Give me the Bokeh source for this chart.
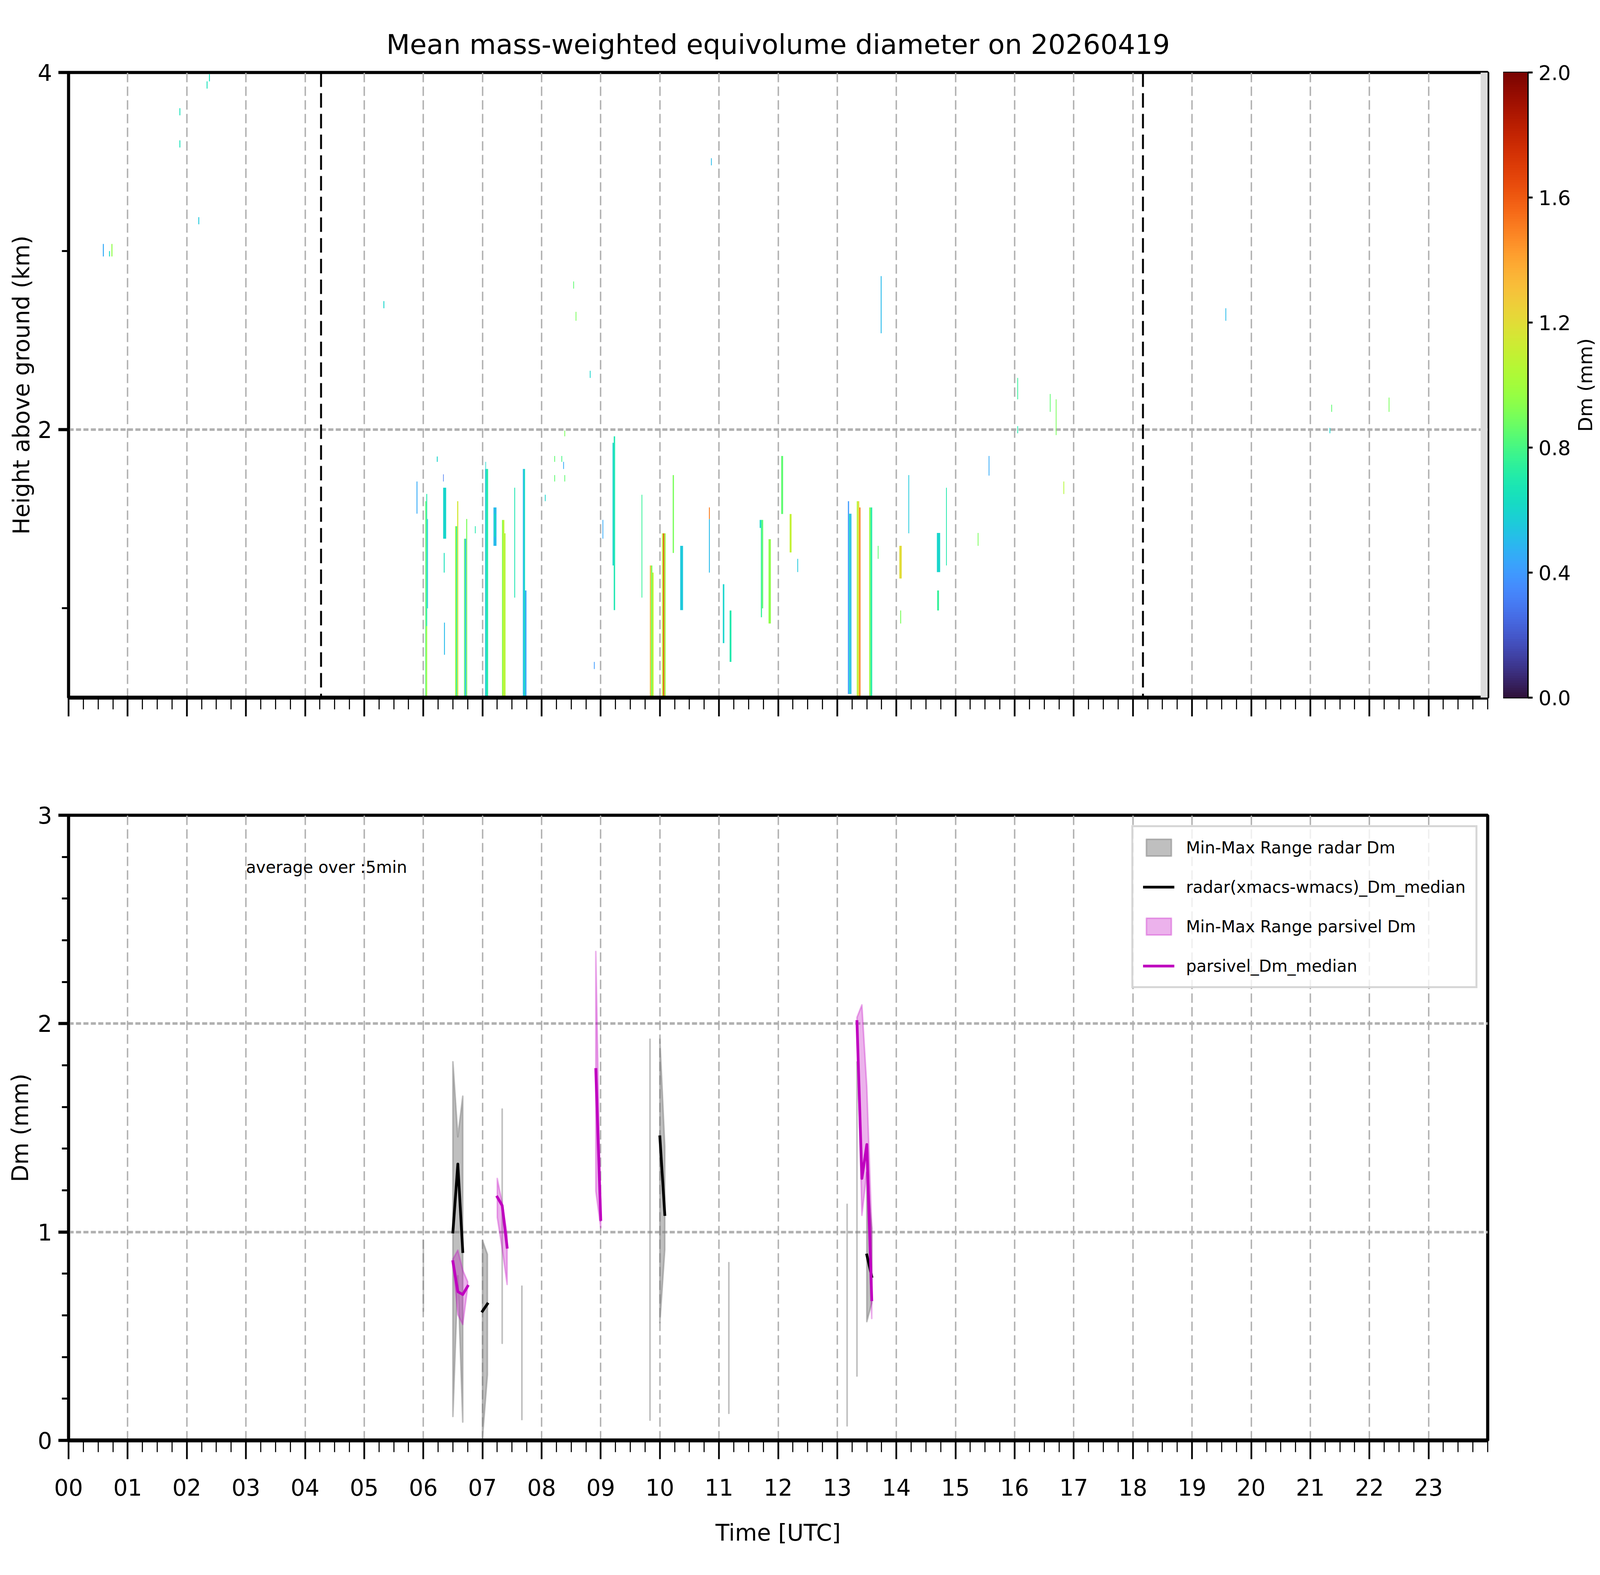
import math
import numpy as np
from bokeh.plotting import figure
from bokeh.layouts import row, column
from bokeh.models import (Range1d, FixedTicker, Span, Label, Legend, LegendItem,
                          LinearColorMapper, PrintfTickFormatter, ColumnDataSource,
                          BoxAnnotation)
from bokeh.transform import linear_cmap
from bokeh.palettes import Turbo256
from bokeh.embed import file_html
from bokeh.resources import INLINE

nan = float("nan")
FONT = "DejaVu Sans"

TITLE = "Mean mass-weighted equivolume diameter on 20260419"

# ---------------- axis ticks / labels ----------------
hour_ticks = list(range(24))
hour_labels = ["00", "01", "02", "03", "04", "05", "06", "07", "08", "09", "10", "11",
               "12", "13", "14", "15", "16", "17", "18", "19", "20", "21", "22", "23"]
hour_minor = [h + q / 4 for h in range(24) for q in range(1, 4)] + [24]
height_ticks = [2, 4]
height_minor = [1, 3]
dm_ticks = [0, 1, 2, 3]
dm_minor = [0.2, 0.4, 0.6, 0.8, 1.2, 1.4, 1.6, 1.8, 2.2, 2.4, 2.6, 2.8]
cb_ticks = [0.0, 0.4, 0.8, 1.2, 1.6, 2.0]

DM_LOW, DM_HIGH = 0.0, 2.0
HEIGHT_LO, HEIGHT_HI = 0.5, 4.0

# ---------------- top panel: radar Dm time-height streaks ----------------
streak_t0 = [
    0.58, 0.685, 0.725, 1.875, 1.875, 2.195, 2.335, 2.375, 5.325, 5.885,
    6.033, 6.05, 6.065, 6.05, 6.228, 6.335, 6.335, 6.345, 6.35, 6.537,
    6.555, 6.572, 6.688, 6.705, 6.725, 6.872, 7.044, 7.06, 7.078, 7.05,
    7.186, 7.20, 7.33, 7.35, 7.37, 7.538, 7.683, 7.70, 7.72, 8.055,
    8.215, 8.215, 8.335, 8.365, 8.385, 8.385, 8.535, 8.575, 8.815, 8.885,
    9.03, 9.20, 9.22, 9.69, 9.831, 9.85, 9.873, 10.036, 10.055, 10.075,
    10.217, 10.344, 10.83, 10.83, 10.865, 11.065, 11.18, 11.688, 11.708, 11.727,
    11.838, 12.052, 12.195, 12.325, 13.18, 13.20, 13.22, 13.33, 13.35, 13.372,
    13.539, 13.556, 13.573, 13.685, 13.735, 14.05, 14.065, 14.203, 14.685, 14.69,
    14.84, 15.375, 15.56, 16.045, 16.045, 16.595, 16.695, 16.825, 19.565, 21.325,
    21.355, 22.325,
]
streak_t1 = [
    0.597, 0.70, 0.742, 1.89, 1.89, 2.21, 2.35, 2.39, 5.34, 5.90,
    6.05, 6.065, 6.078, 6.065, 6.243, 6.386, 6.345, 6.36, 6.365, 6.555,
    6.572, 6.591, 6.705, 6.725, 6.742, 6.885, 7.06, 7.078, 7.095, 7.06,
    7.237, 7.22, 7.35, 7.37, 7.39, 7.552, 7.70, 7.72, 7.744, 8.068,
    8.228, 8.228, 8.348, 8.378, 8.398, 8.398, 8.548, 8.588, 8.828, 8.898,
    9.043, 9.22, 9.243, 9.703, 9.85, 9.873, 9.894, 10.055, 10.075, 10.097,
    10.238, 10.392, 10.845, 10.845, 10.878, 11.09, 11.21, 11.708, 11.727, 11.747,
    11.877, 12.084, 12.227, 12.338, 13.20, 13.22, 13.24, 13.35, 13.372, 13.393,
    13.556, 13.573, 13.591, 13.698, 13.75, 14.09, 14.08, 14.216, 14.74, 14.72,
    14.853, 15.388, 15.573, 16.058, 16.058, 16.608, 16.708, 16.838, 19.578, 21.338,
    21.368, 22.338,
]
streak_h0 = [
    2.97, 2.97, 2.97, 3.76, 3.58, 3.15, 3.91, 3.95, 2.68, 1.53,
    0.50, 0.90, 1.00, 0.50, 1.82, 1.39, 1.71, 1.20, 0.74, 0.50,
    0.50, 0.50, 0.50, 0.50, 0.50, 1.42, 0.50, 0.50, 0.50, 1.78,
    1.35, 1.40, 0.50, 0.50, 0.50, 1.06, 0.50, 0.50, 0.50, 1.60,
    1.82, 1.71, 1.82, 1.78, 1.963, 1.71, 2.79, 2.61, 2.29, 0.66,
    1.39, 1.24, 0.99, 1.06, 0.50, 0.50, 0.50, 0.50, 0.50, 0.50,
    1.31, 0.99, 1.20, 1.50, 3.48, 0.805, 0.70, 1.45, 0.95, 1.00,
    0.915, 1.528, 1.313, 1.203, 0.52, 0.52, 0.52, 0.50, 0.50, 0.50,
    0.50, 0.50, 0.50, 1.277, 2.54, 1.167, 0.915, 1.42, 1.203, 0.988,
    1.24, 1.35, 1.743, 2.17, 1.98, 2.10, 1.97, 1.64, 2.61, 1.98,
    2.10, 2.10,
]
streak_h1 = [
    3.04, 3.00, 3.04, 3.80, 3.62, 3.19, 3.95, 3.99, 2.72, 1.71,
    1.60, 1.64, 1.50, 0.90, 1.85, 1.675, 1.75, 1.31, 0.92, 1.46,
    1.46, 1.60, 1.39, 1.39, 1.50, 1.46, 1.78, 1.78, 1.78, 1.82,
    1.565, 1.53, 1.495, 1.495, 1.42, 1.675, 1.78, 1.78, 1.10, 1.636,
    1.853, 1.746, 1.853, 1.82, 1.995, 1.746, 2.83, 2.66, 2.33, 0.70,
    1.495, 1.927, 1.963, 1.636, 1.24, 1.24, 1.20, 1.42, 1.42, 1.42,
    1.746, 1.35, 1.50, 1.565, 3.52, 1.135, 0.988, 1.495, 1.495, 1.495,
    1.387, 1.853, 1.528, 1.277, 1.60, 1.53, 1.53, 1.60, 1.60, 1.565,
    1.565, 1.565, 1.565, 1.35, 2.86, 1.35, 0.988, 1.746, 1.422, 1.10,
    1.675, 1.422, 1.853, 2.29, 2.02, 2.20, 2.17, 1.71, 2.68, 2.01,
    2.14, 2.18,
]
streak_dm = [
    0.45, 0.6, 0.95, 0.65, 0.65, 0.55, 0.65, 0.65, 0.6, 0.45,
    0.85, 0.7, 0.55, 1.0, 0.6, 0.6, 0.3, 0.65, 0.5, 1.0,
    0.7, 1.15, 0.85, 0.5, 0.9, 0.7, 0.55, 0.65, 0.72, 0.6,
    0.5, 0.65, 0.95, 1.1, 1.05, 0.68, 0.5, 0.62, 0.45, 0.6,
    0.85, 0.85, 0.8, 0.45, 0.9, 0.85, 0.85, 0.9, 0.6, 0.4,
    0.45, 0.6, 0.68, 0.75, 1.35, 0.9, 1.1, 1.1, 1.65, 1.0,
    0.9, 0.55, 0.5, 1.5, 0.5, 0.6, 0.7, 0.6, 0.75, 0.85,
    0.95, 0.85, 1.1, 0.55, 0.4, 0.6, 0.5, 1.05, 1.2, 1.5,
    1.0, 0.8, 0.7, 0.85, 0.5, 1.2, 0.9, 0.55, 0.6, 0.75,
    0.7, 0.9, 0.45, 0.75, 0.7, 0.85, 0.9, 1.05, 0.5, 0.6,
    0.85, 0.9,
]
sun_times = [4.27, 18.17]          # black dashed markers (UTC hours)
nodata_start, nodata_end = 23.88, 24.0

# ---------------- bottom panel: 5-min statistics ----------------
radar_time = [6.0, nan, 6.5, 6.5833, 6.6667, nan, 7.0, 7.0833, nan, 7.3333, nan, 7.6667,
              nan, 9.8333, nan, 10.0, 10.0833, nan, 11.1667, nan, 13.1667, nan, 13.3333,
              nan, 13.5, 13.5833]
radar_min = [0.62, nan, 0.115, 0.79, 0.088, nan, 0.012, 0.315, nan, 0.466, nan, 0.10,
             nan, 0.097, nan, 0.565, 0.916, nan, 0.13, nan, 0.07, nan, 0.309,
             nan, 0.57, 0.66]
radar_max = [0.96, nan, 1.817, 1.457, 1.652, nan, 0.96, 0.893, nan, 1.59, nan, 0.74,
             nan, 1.925, nan, 1.925, 1.41, nan, 0.853, nan, 1.133, nan, 1.816,
             nan, 1.287, 1.018]
radar_median = [0.80, nan, 1.0, 1.326, 0.906, nan, 0.62, 0.655, nan, 1.0, nan, 0.40,
                nan, 1.0, nan, 1.457, 1.084, nan, 0.50, nan, 0.60, nan, 1.0,
                nan, 0.89, 0.787]

parsivel_time = [6.5, 6.5833, 6.6667, 6.75, nan, 7.25, 7.3333, 7.4167, nan, 8.9167, 9.0,
                 nan, 13.3333, 13.4167, 13.5, 13.5833]
parsivel_min = [0.85, 0.604, 0.556, 0.735, nan, 1.07, 0.92, 0.748, nan, 1.196, 1.02,
                nan, 1.99, 1.08, 1.287, 0.585]
parsivel_max = [0.87, 0.913, 0.817, 0.762, nan, 1.257, 1.14, 0.989, nan, 2.346, 1.08,
                nan, 2.03, 2.09, 1.697, 1.018]
parsivel_median = [0.858, 0.714, 0.70, 0.74, nan, 1.168, 1.127, 0.927, nan, 1.78, 1.06,
                   nan, 2.01, 1.257, 1.42, 0.675]

AVG_NOTE = "average over :5min"
note_x, note_y = 3.0, 2.75

# ---------------- page geometry (real viewport is 4096 x 4031 CSS px) ----------------
SX = 4096 / 7442     # horizontal scale from reference pixels
F = 0.62             # font scale


def fx(v):
    return int(round(v * SX))


def fs(v):
    return f"{v * F:.0f}px"


# ---------------- helpers ----------------
def segments(t):
    segs, cur = [], []
    for i, x in enumerate(t):
        if math.isnan(x):
            if cur:
                segs.append(cur)
            cur = []
        else:
            cur.append(i)
    if cur:
        segs.append(cur)
    return segs


def band_polys(t, lo, hi):
    xs, ys = [], []
    for idx in segments(t):
        xs.append([t[i] for i in idx] + [t[i] for i in reversed(idx)])
        ys.append([hi[i] for i in idx] + [lo[i] for i in reversed(idx)])
    return xs, ys


def text_common(ax, size=93):
    ax.major_label_text_font = FONT
    ax.major_label_text_font_size = fs(size)
    ax.major_label_text_color = "black"
    ax.axis_label_text_font = FONT
    ax.axis_label_text_font_size = fs(93)
    ax.axis_label_text_font_style = "normal"
    ax.axis_label_text_color = "black"


def style_xaxis(ax):
    # horizontal axis: ticks are vertical strokes
    ax.axis_line_color = "black"
    ax.axis_line_width = 10
    ax.major_tick_line_color = "black"
    ax.major_tick_line_width = 8 * SX
    ax.major_tick_out = 48
    ax.major_tick_in = 0
    ax.minor_tick_line_color = "black"
    ax.minor_tick_line_width = 5 * SX
    ax.minor_tick_out = 30
    ax.minor_tick_in = 0
    text_common(ax)


def style_yaxis(ax, size=93):
    # vertical axis: ticks are horizontal strokes
    ax.axis_line_color = "black"
    ax.axis_line_width = 7
    ax.major_tick_line_color = "black"
    ax.major_tick_line_width = 8
    ax.major_tick_out = fx(48)
    ax.major_tick_in = 0
    ax.minor_tick_line_color = "black"
    ax.minor_tick_line_width = 5
    ax.minor_tick_out = fx(30)
    ax.minor_tick_in = 0
    text_common(ax, size)


def style_grid(p, xticker, yticker):
    p.xgrid.ticker = xticker
    p.ygrid.ticker = yticker
    p.xgrid.grid_line_width = 6.6 * SX
    p.xgrid.grid_line_dash = "24 11"
    p.ygrid.grid_line_width = 6.6
    p.ygrid.grid_line_dash = f"{fx(24)} {fx(11)}"
    for g in (p.xgrid, p.ygrid):
        g.grid_line_color = "#b0b0b0"
    p.outline_line_color = "black"
    p.outline_line_width = 8
    p.outline_line_alpha = 1.0


FRAME_W = fx(6600)
FRAME_H = 1600
LEFT = fx(318)
TOP_ROW_H = 1936

# ---------------- top figure ----------------
p_top = figure(frame_width=FRAME_W, frame_height=FRAME_H,
               x_range=Range1d(0, 24), y_range=Range1d(HEIGHT_LO, HEIGHT_HI),
               output_backend="svg", toolbar_location=None,
               min_border_left=LEFT, min_border_right=fx(6992) - LEFT - FRAME_W,
               min_border_top=185, min_border_bottom=TOP_ROW_H - 185 - FRAME_H,
               background_fill_color="white", border_fill_color="white")
p_top.title.text = TITLE
p_top.title.align = "center"
p_top.title.text_font = FONT
p_top.title.text_font_size = fs(113)
p_top.title.text_font_style = "normal"
p_top.title.text_color = "black"
p_top.title.standoff = 61

xt_top = FixedTicker(ticks=hour_ticks, minor_ticks=hour_minor)
yt_top = FixedTicker(ticks=height_ticks, minor_ticks=height_minor)
p_top.xaxis.ticker = xt_top
p_top.yaxis.ticker = yt_top
p_top.xaxis.major_label_overrides = {h: "" for h in hour_ticks}
p_top.yaxis.axis_label = "Height above ground (km)"
style_xaxis(p_top.xaxis[0])
style_yaxis(p_top.yaxis[0])
p_top.xaxis.major_label_standoff = 0
p_top.yaxis.major_label_standoff = 16
p_top.yaxis.axis_label_standoff = 5
style_grid(p_top, xt_top, yt_top)

src = ColumnDataSource(dict(t0=streak_t0, t1=streak_t1, h0=streak_h0, h1=streak_h1, dm=streak_dm))
p_top.quad(left="t0", right="t1", bottom="h0", top="h1", source=src,
           fill_color=linear_cmap("dm", Turbo256, DM_LOW, DM_HIGH), line_color=None)

p_top.add_layout(BoxAnnotation(left=nodata_start, right=nodata_end,
                               fill_color="#dcdcdc", fill_alpha=1.0, line_color=None))
for st in sun_times:
    p_top.add_layout(Span(location=st, dimension="height", line_color="black",
                          line_width=9 * SX, line_dash="37 16"))

# ---------------- colorbar figure ----------------
CB_W = fx(7105) - fx(6992)
CB_RIGHT = 114
p_cb = figure(frame_width=CB_W, frame_height=FRAME_H,
              x_range=Range1d(0, 1), y_range=Range1d(DM_LOW, DM_HIGH),
              x_axis_location=None, y_axis_location="right",
              output_backend="svg", toolbar_location=None,
              min_border_left=0, min_border_right=CB_RIGHT,
              min_border_top=185, min_border_bottom=TOP_ROW_H - 185 - FRAME_H,
              background_fill_color="white", border_fill_color="white")
p_cb.grid.visible = False
cb_levels = np.linspace(DM_LOW, DM_HIGH, 256).reshape(256, 1)
p_cb.image(image=[cb_levels], x=0, y=DM_LOW, dw=1, dh=DM_HIGH - DM_LOW,
           color_mapper=LinearColorMapper(palette=Turbo256, low=DM_LOW, high=DM_HIGH))
p_cb.yaxis.ticker = FixedTicker(ticks=cb_ticks, minor_ticks=[])
p_cb.yaxis.formatter = PrintfTickFormatter(format="%.1f")
style_yaxis(p_cb.yaxis[0], size=84)
p_cb.yaxis.axis_line_width = 3
p_cb.yaxis.major_tick_out = fx(21)
p_cb.yaxis.major_tick_line_width = 5
p_cb.yaxis.major_label_standoff = 15
p_cb.outline_line_color = "black"
p_cb.outline_line_width = 4

# colorbar title, in its own narrow panel so that it is not clipped
LAB_W = 66
p_lab = figure(frame_width=LAB_W, frame_height=FRAME_H,
               x_range=Range1d(0, 1), y_range=Range1d(0, 1),
               x_axis_location=None, y_axis_location=None,
               output_backend="svg", toolbar_location=None,
               min_border_left=0, min_border_right=0,
               min_border_top=185, min_border_bottom=TOP_ROW_H - 185 - FRAME_H,
               background_fill_color="white", border_fill_color="white")
p_lab.grid.visible = False
p_lab.outline_line_color = None
p_lab.add_layout(Label(x=0.5, y=0.5, text="Dm (mm)", angle=math.pi / 2,
                       text_align="center", text_baseline="middle",
                       text_font=FONT, text_font_size=fs(80), text_color="black"))

# ---------------- bottom figure ----------------
p_bot = figure(frame_width=FRAME_W, frame_height=FRAME_H,
               x_range=Range1d(0, 24), y_range=Range1d(0, 3),
               output_backend="svg", toolbar_location=None,
               min_border_left=LEFT, min_border_right=fx(6992) - LEFT - FRAME_W,
               min_border_top=2086 - TOP_ROW_H, min_border_bottom=4024 - 3686,
               background_fill_color="white", border_fill_color="white")
xt_bot = FixedTicker(ticks=hour_ticks, minor_ticks=hour_minor)
yt_bot = FixedTicker(ticks=dm_ticks, minor_ticks=dm_minor)
p_bot.xaxis.ticker = xt_bot
p_bot.yaxis.ticker = yt_bot
p_bot.xaxis.major_label_overrides = dict(zip(hour_ticks, hour_labels))
p_bot.xaxis.axis_label = "Time [UTC]"
p_bot.yaxis.axis_label = "Dm (mm)"
style_xaxis(p_bot.xaxis[0])
style_yaxis(p_bot.yaxis[0])
p_bot.xaxis.major_label_standoff = 50
p_bot.xaxis.axis_label_standoff = 58
p_bot.yaxis.major_label_standoff = 16
p_bot.yaxis.axis_label_standoff = 8
style_grid(p_bot, xt_bot, yt_bot)

rx, ry = band_polys(radar_time, radar_min, radar_max)
r_rband = p_bot.patches(rx, ry, fill_color="#808080", fill_alpha=0.5,
                        line_color="#808080", line_alpha=0.5, line_width=4,
                        line_join="round")
r_rmed = p_bot.line(radar_time, radar_median, line_color="black", line_width=7,
                    line_cap="square", line_join="round")
pxs, pys = band_polys(parsivel_time, parsivel_min, parsivel_max)
r_pband = p_bot.patches(pxs, pys, fill_color="#bf00bf", fill_alpha=0.3,
                        line_color="#bf00bf", line_alpha=0.3, line_width=4,
                        line_join="round")
r_pmed = p_bot.line(parsivel_time, parsivel_median, line_color="#bf00bf", line_width=7,
                    line_cap="square", line_join="round")

p_bot.add_layout(Label(x=note_x, y=note_y, text=AVG_NOTE, text_font=FONT,
                       text_font_size=fs(68), text_color="black",
                       text_baseline="alphabetic"))

legend = Legend(items=[
    LegendItem(label="Min-Max Range radar Dm", renderers=[r_rband]),
    LegendItem(label="radar(xmacs-wmacs)_Dm_median", renderers=[r_rmed]),
    LegendItem(label="Min-Max Range parsivel Dm", renderers=[r_pband]),
    LegendItem(label="parsivel_Dm_median", renderers=[r_pmed]),
], location="top_right")
legend.label_text_font = FONT
legend.label_text_font_size = fs(68)
legend.label_text_color = "black"
legend.glyph_width = fx(145)
legend.glyph_height = 54
legend.label_standoff = fx(55)
legend.padding = 25
legend.spacing = 47
legend.margin = 26
legend.border_line_color = "#cccccc"
legend.border_line_width = 5
legend.border_line_alpha = 0.8
legend.background_fill_color = "white"
legend.background_fill_alpha = 0.8
p_bot.add_layout(legend)

layout = column(row(p_top, p_cb, p_lab), p_bot)
open("out.html", "w").write(file_html(layout, INLINE, title=TITLE))
